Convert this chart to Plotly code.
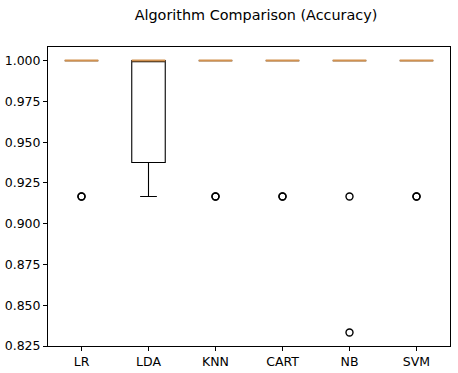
import numpy as np
import plotly.graph_objects as go

names = ["LR", "LDA", "KNN", "CART", "NB", "SVM"]
acc_LR = [1.0, 1.0, 1.0, 0.9167, 1.0, 1.0, 1.0, 0.9167, 1.0, 1.0]
acc_LDA = [1.0, 0.9167, 1.0, 1.0, 0.9167, 1.0, 1.0, 0.9167, 1.0, 1.0]
acc_KNN = [1.0, 1.0, 0.9167, 1.0, 1.0, 1.0, 0.9167, 1.0, 1.0, 1.0]
acc_CART = [1.0, 0.9167, 1.0, 1.0, 1.0, 1.0, 1.0, 0.9167, 1.0, 1.0]
acc_NB = [1.0, 1.0, 0.9167, 1.0, 1.0, 0.8333, 1.0, 1.0, 1.0, 1.0]
acc_SVM = [1.0, 1.0, 1.0, 0.9167, 1.0, 1.0, 0.9167, 1.0, 1.0, 1.0]
results = [acc_LR, acc_LDA, acc_KNN, acc_CART, acc_NB, acc_SVM]
y_ticks = [0.825, 0.85, 0.875, 0.9, 0.925, 0.95, 0.975, 1.0]

W, H = 458, 373

BOX_W = 0.5
fig = go.Figure()
for i, (name, vals) in enumerate(zip(names, results)):
    pos = i + 1
    a = np.array(vals, dtype=float)
    q1, med, q3 = np.percentile(a, [25, 50, 75])
    iqr = q3 - q1
    lo = a[a >= q1 - 1.5 * iqr].min()
    hi = a[a <= q3 + 1.5 * iqr].max()
    fliers = a[(a < lo) | (a > hi)]
    fig.add_trace(go.Box(
        x=[pos], q1=[q1], median=[med], q3=[q3], lowerfence=[lo], upperfence=[hi],
        width=BOX_W, whiskerwidth=0.5, fillcolor="rgba(255,255,255,0)",
        line=dict(color="black", width=1.1), boxpoints=False, hoverinfo="skip",
        showlegend=False, name=name))
    fig.add_trace(go.Scatter(
        x=[pos - BOX_W / 2, pos + BOX_W / 2], y=[med, med], mode="lines",
        line=dict(color="#d2914f", width=2), showlegend=False,
        hoverinfo="skip"))
    if len(fliers):
        fig.add_trace(go.Scatter(
            x=[pos] * len(fliers), y=fliers, mode="markers",
            marker=dict(symbol="circle-open", size=7, color="black",
                        line=dict(width=1.4, color="black")),
            showlegend=False, hoverinfo="skip"))

fig.update_layout(
    width=W, height=H,
    margin=dict(l=48, r=8, t=47, b=27),
    paper_bgcolor="white", plot_bgcolor="white",
    font=dict(family="DejaVu Sans", size=12.5, color="black"),
    title=dict(text="Algorithm Comparison (Accuracy)", xref="container", yref="container",
               x=256 / W, y=1 - 15 / H, xanchor="center", yanchor="middle",
               font=dict(size=14.4, color="black"), automargin=False),
)
fig.update_xaxes(range=[0.5, 6.5], tickvals=list(range(1, 7)), ticktext=names,
                 ticks="outside", ticklen=4, tickcolor="black", tickwidth=1,
                 showgrid=False, zeroline=False, showline=True, linecolor="black",
                 linewidth=1, mirror=True, automargin=False)
fig.update_yaxes(range=[0.825, 1.0 + 0.1667 * 0.05], tickvals=y_ticks,
                 tickformat=".3f", ticks="outside", ticklen=4, tickcolor="black",
                 tickwidth=1, showgrid=False, zeroline=False, showline=True,
                 linecolor="black", linewidth=1, mirror=True, automargin=False)

fig.write_html("out.html", config={"displayModeBar": False},
               post_script="document.body.style.margin='0';document.body.style.overflow='hidden';")
